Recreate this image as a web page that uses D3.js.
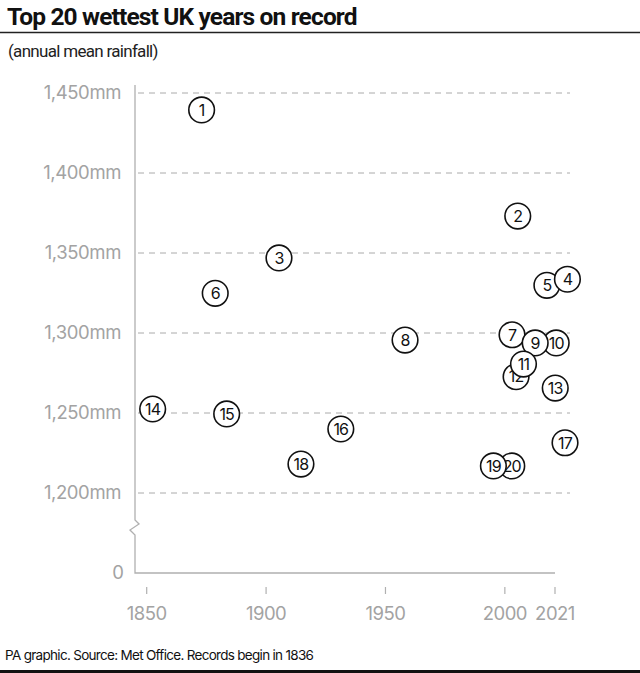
<!DOCTYPE html>
<html><head><meta charset="utf-8">
<script src="https://cdn.jsdelivr.net/npm/d3@7"></script>
<style>
html,body{margin:0;padding:0;background:#fff;}
svg{display:block;font-family:Inter, "Noto Sans", sans-serif;}
</style></head>
<body>
<svg id="chart" width="640" height="673"></svg>
<script>
const ranks = [1,2,3,4,5,6,7,8,9,10,11,12,13,14,15,16,17,18,19,20];
const years = [1873.0,2005.4,1905.4,2026.2,2017.6,1878.7,2003.0,1958.2,2012.7,2021.5,2007.8,2004.7,2021.1,1852.5,1883.5,1931.3,2025.2,1914.6,1995.2,2002.9];
const rainfall = [1439.4,1373.1,1346.9,1333.6,1329.8,1324.8,1298.9,1295.6,1293.8,1293.8,1280.6,1272.7,1265.6,1252.5,1249.4,1240.0,1231.4,1218.1,1216.9,1216.9];
const drawOrder = [20,19,18,17,16,15,14,13,12,10,7,9,11,8,6,5,4,3,2,1];
const yTicks = [1200,1250,1300,1350,1400,1450];
const xTicks = [1850,1900,1950,2000,2021];
const title = "Top 20 wettest UK years on record";
const subtitle = "(annual mean rainfall)";
const footer = "PA graphic. Source: Met Office. Records begin in 1836";

const svg = d3.select("#chart");
const x = d3.scaleLinear().domain([1845.1, 2021]).range([135, 555]);
const y = d3.scaleLinear().domain([1150, 1450]).range([573, 93]);

// title
svg.append("text").attr("x",7).attr("y",25).attr("font-family","Roboto").attr("font-size",24.5).attr("font-weight",700)
  .attr("letter-spacing",-0.85).attr("fill","#111").text(title);
svg.append("line").attr("x1",0).attr("x2",640).attr("y1",32.5).attr("y2",32.5)
  .attr("stroke","#222").attr("stroke-width",1.5);
svg.append("text").attr("x",8).attr("y",57).attr("font-family","Roboto").attr("font-size",17)
  .attr("letter-spacing",-0.7).attr("fill","#222").text(subtitle);

// grid lines
svg.append("g").selectAll("line").data(yTicks).join("line")
  .attr("x1",138).attr("x2",570).attr("y1",d=>y(d)).attr("y2",d=>y(d))
  .attr("stroke","#aaa").attr("stroke-width",1).attr("stroke-dasharray","6,5");

// y labels
const fmt = d3.format(",");
svg.append("g").selectAll("text").data(yTicks).join("text")
  .attr("x",121).attr("y",d=>y(d)).attr("dy","0.35em").attr("text-anchor","end")
  .attr("font-size",18.5).attr("letter-spacing",-0.4).attr("fill","#a3a3a3")
  .text(d=>fmt(d)+"mm");
svg.append("text").attr("x",124).attr("y",y(1150)).attr("dy","0.35em").attr("text-anchor","end")
  .attr("font-size",18.5).attr("fill","#a3a3a3").text("0");

// y axis with break
const bTop = y(1150)-53, bBot = y(1150)-38;
svg.append("path")
  .attr("d",`M135,85 V${bTop} L139,${bTop+4} L130,${bTop+10} L135,${bBot} V573 H555`)
  .attr("fill","none").attr("stroke","#b0b0b0").attr("stroke-width",1.3);

// x ticks
const xg = svg.append("g");
xg.selectAll("line").data(xTicks).join("line")
  .attr("x1",d=>x(d)).attr("x2",d=>x(d)).attr("y1",587).attr("y2",594)
  .attr("stroke","#b0b0b0").attr("stroke-width",1.2);
xg.selectAll("text").data(xTicks).join("text")
  .attr("x",d=>x(d)).attr("y",620).attr("text-anchor","middle")
  .attr("font-size",18.5).attr("letter-spacing",-0.5).attr("fill","#a3a3a3").text(d=>d);

// points
const pts = drawOrder.map(r => ({rank:r, year:years[r-1], val:rainfall[r-1]}));
const pg = svg.append("g").selectAll("g").data(pts).join("g")
  .attr("transform",d=>`translate(${x(d.year)},${y(d.val)})`);
pg.append("circle").attr("r",12.8).attr("fill","#fff").attr("stroke","#111").attr("stroke-width",1.6);
pg.append("text").attr("text-anchor","middle").attr("dy","0.36em").attr("font-size",16)
  .attr("letter-spacing",-0.8).attr("fill","#111").text(d=>d.rank);

// footer
svg.append("text").attr("x",5).attr("y",660).attr("font-size",13.5).attr("letter-spacing",-0.7)
  .attr("fill","#111").text(footer);
svg.append("rect").attr("x",0).attr("y",670).attr("width",640).attr("height",3).attr("fill","#111");
</script>
</body></html>
